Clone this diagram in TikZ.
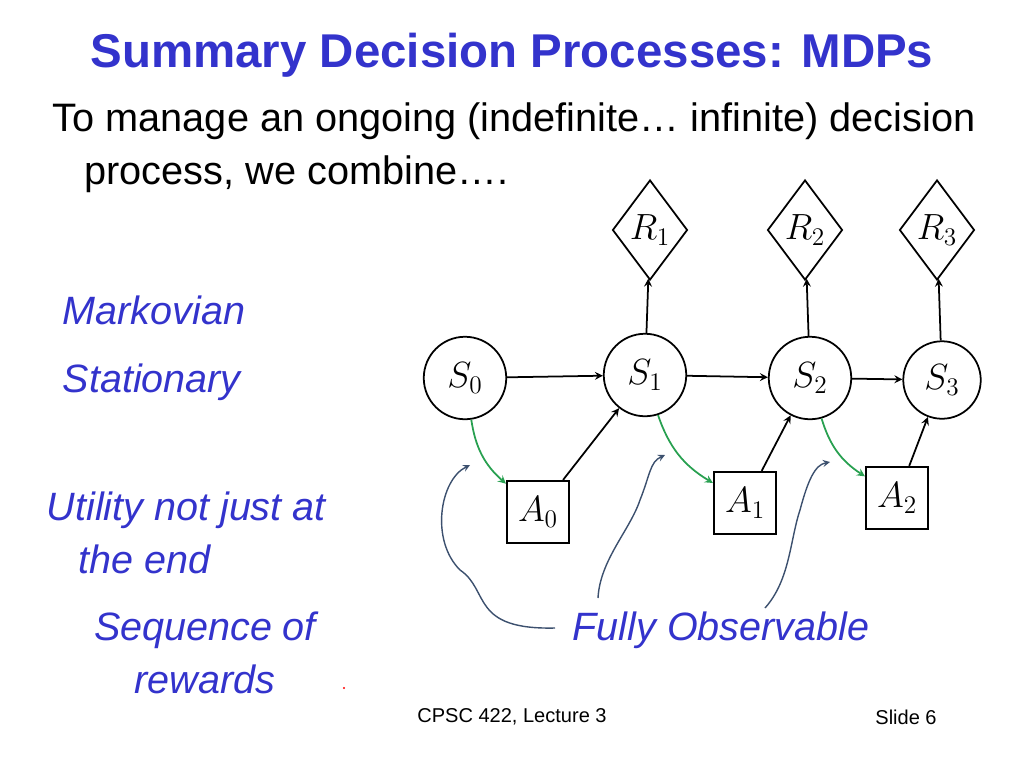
\documentclass[tikz,border=0pt]{standalone}
\usepackage{fontspec}
\setmainfont{Liberation Sans}
\usetikzlibrary{shapes.geometric}
\definecolor{slideblue}{RGB}{51,51,204}
\definecolor{penblue}{RGB}{60,80,110}
\definecolor{pengreen}{RGB}{40,160,80}
\begin{document}
\begin{tikzpicture}[x=0.02cm, y=-0.02cm, line width=1pt,
  state/.style={circle, draw, minimum size=1.65cm, font=\fontsize{20}{22}\selectfont},
  reward/.style={diamond, draw, minimum width=1.5cm, minimum height=2cm, font=\fontsize{20}{22}\selectfont, inner sep=0pt},
  action/.style={rectangle, draw, minimum size=1.25cm, font=\fontsize{20}{22}\selectfont},
  label/.style={font=\fontsize{22.5}{30}\selectfont\itshape, text=slideblue},
  edge/.style={->, >=stealth},
  obs/.style={->, >=stealth, penblue, line width=0.8pt}]
  \useasboundingbox (0,0) rectangle (1024,768);
  % title and text
  \node[font=\fontsize{27}{30}\selectfont\bfseries, text=slideblue] (title) at (512,55) {Summary Decision Processes: MDPs};
  \node[anchor=west, align=left, font=\fontsize{22.6}{30}\selectfont] (intro) at (46,148) {To manage an ongoing (indefinite\ldots{} infinite) decision\\\hspace*{0.8em}process, we combine\ldots.};
  \node[label, anchor=west] (markov) at (56,310) {Markovian};
  \node[label, anchor=west] (stat) at (56,382) {Stationary};
  \node[label, anchor=west, align=left] (util) at (40,533) {Utility not just at\\\hspace*{0.8em}the end};
  \node[label, align=center] (seq) at (205,653) {Sequence of\\rewards};
  \node[label] (fully) at (721,630) {Fully Observable};
  \node[font=\fontsize{11.4}{14}\selectfont] (foot) at (512,717) {CPSC 422, Lecture 3};
  \node[font=\fontsize{11.4}{14}\selectfont] (slide) at (906,717) {Slide 6};
  % states
  \node[state] (s0) at (465,378) {$S_0$};
  \node[state] (s1) at (645,375) {$S_1$};
  \node[state] (s2) at (810,378) {$S_2$};
  \node[state, minimum size=1.55cm] (s3) at (942,380) {$S_3$};
  % rewards
  \node[reward] (r1) at (650,230) {$R_1$};
  \node[reward] (r2) at (805,230) {$R_2$};
  \node[reward] (r3) at (937,230) {$R_3$};
  % actions
  \node[action] (a0) at (538,512) {$A_0$};
  \node[action] (a1) at (745,503) {$A_1$};
  \node[action] (a2) at (897,498) {$A_2$};
  \draw[edge] (s0) -- (s1);
  \draw[edge] (s1) -- (s2);
  \draw[edge] (s2) -- (s3);
  \draw[edge] (s1) -- (r1);
  \draw[edge] (s2) -- (r2);
  \draw[edge] (s3) -- (r3);
  \draw[edge] (a0) -- (s1);
  \draw[edge] (a1) -- (s2);
  \draw[edge] (a2) -- (s3);
  \draw[edge, pengreen] (s0) to[bend right=20] (a0);
  \draw[edge, pengreen] (s1) to[bend right=20] (a1);
  \draw[edge, pengreen] (s2) to[bend right=20] (a2);
  % observability scribbles
  \coordinate (o0) at (470,465);
  \coordinate (o1) at (665,455);
  \coordinate (o2) at (830,462);
  \draw[obs] (555,628) .. controls (470,630) and (490,590) .. (460,570) .. controls (430,540) and (440,480) .. (o0);
  \draw[obs] (598,598) .. controls (600,560) and (630,530) .. (640,500) .. controls (650,475) and (650,462) .. (o1);
  \draw[obs] (765,608) .. controls (790,580) and (790,540) .. (800,510) .. controls (808,480) and (815,465) .. (o2);
  \fill[red] (344,688) circle (1.2);
\end{tikzpicture}
\end{document}
